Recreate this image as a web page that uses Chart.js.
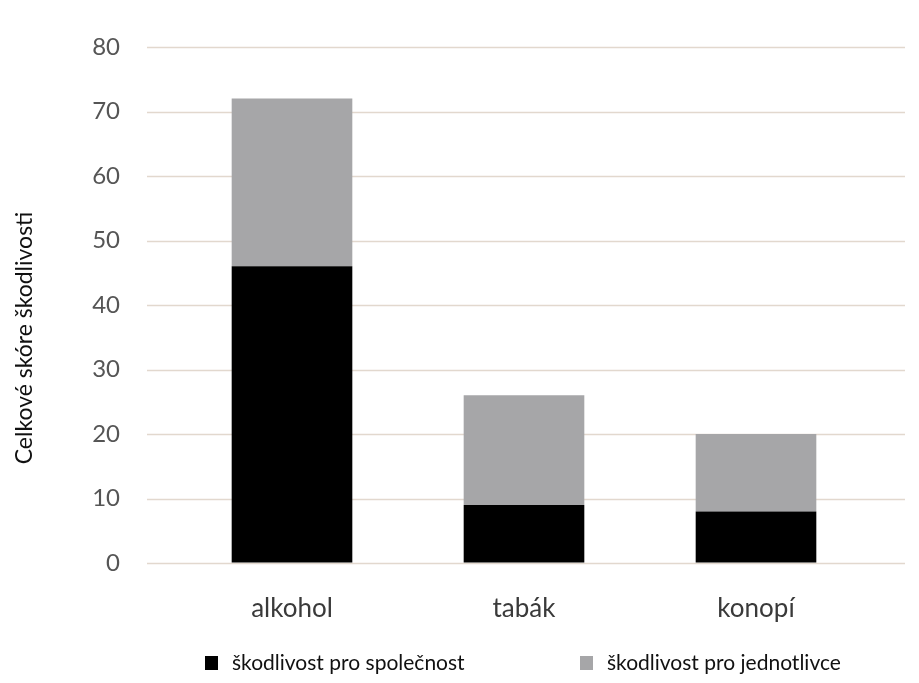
<!DOCTYPE html>
<html>
<head>
<meta charset="utf-8">
<script src="https://cdn.jsdelivr.net/npm/chart.js@4"></script>
<style>
  html, body { margin: 0; padding: 0; background: #fff; }
  #wrap { width: 919px; height: 683px; }
</style>
</head>
<body>
<div id="wrap"><canvas id="harmChart" width="919" height="683"></canvas></div>
<script>
const categories = ['alkohol', 'tabák', 'konopí'];
const societyHarm = [46, 9, 8];
const individualHarm = [26, 17, 12];
const yTicks = [0, 10, 20, 30, 40, 50, 60, 70, 80];
const yTitle = 'Celkové skóre škodlivosti';

// gridlines in the original run wider than the bars' area
const wideGrid = {
    id: 'wideGrid',
    beforeDatasetsDraw(chart) {
        const ctx = chart.ctx;
        const y = chart.scales.y;
        ctx.save();
        ctx.strokeStyle = '#e2d8ce';
        ctx.lineWidth = 1.5;
        yTicks.forEach(v => {
            const py = Math.round(y.getPixelForValue(v)) + 0.5;
            ctx.beginPath();
            ctx.moveTo(147, py);
            ctx.lineTo(905, py);
            ctx.stroke();
        });
        ctx.restore();
    }
};

// legend + axis title drawn by hand so they sit where the original has them
const extras = {
    id: 'extras',
    afterDraw(chart) {
        const ctx = chart.ctx;
        const starts = [205, 580];
        ctx.save();
        ctx.font = '21px Lato';
        ctx.textBaseline = 'middle';
        chart.data.datasets.forEach((ds, i) => {
            ctx.fillStyle = ds.backgroundColor;
            ctx.fillRect(starts[i], 656, 13, 14);
            ctx.fillStyle = '#111';
            ctx.fillText(ds.label, starts[i] + 27, 663);
        });
        ctx.translate(25, 338);
        ctx.rotate(-Math.PI / 2);
        ctx.textAlign = 'center';
        ctx.font = '23px Lato';
        ctx.fillText(yTitle, 0, 0);
        ctx.restore();
    }
};

const ctx = document.getElementById('harmChart').getContext('2d');
new Chart(ctx, {
    type: 'bar',
    data: {
        labels: categories,
        datasets: [
            {
                label: 'škodlivost pro společnost',
                data: societyHarm,
                backgroundColor: '#000000',
            },
            {
                label: 'škodlivost pro jednotlivce',
                data: individualHarm,
                backgroundColor: '#a6a6a8',
            },
        ],
    },
    options: {
        responsive: false,
        animation: false,
        devicePixelRatio: 1,
        layout: { padding: { top: 47, right: 47, left: 12, bottom: 50 } },
        datasets: { bar: { categoryPercentage: 1, barPercentage: 0.52 } },
        plugins: {
            tooltip: { enabled: false },
            legend: { display: false },
        },
        scales: {
            x: {
                stacked: true,
                grid: { display: false },
                border: { display: false },
                ticks: {
                    font: { family: 'Lato', size: 26 },
                    color: '#3a3a3a',
                    padding: 22,
                },
                afterFit(scale) { scale.height = 70; },
            },
            y: {
                stacked: true,
                min: 0,
                max: 80,
                // invisible tick marks push the labels left without padding the top
                grid: { color: 'rgba(0,0,0,0)', tickLength: 56 },
                border: { display: false },
                ticks: {
                    stepSize: 10,
                    font: { family: 'Lato', size: 24 },
                    color: '#555555',
                    padding: 0,
                },
                afterFit(scale) { scale.width = 164; },
            },
        },
    },
    plugins: [wideGrid, extras],
});
</script>
</body>
</html>
